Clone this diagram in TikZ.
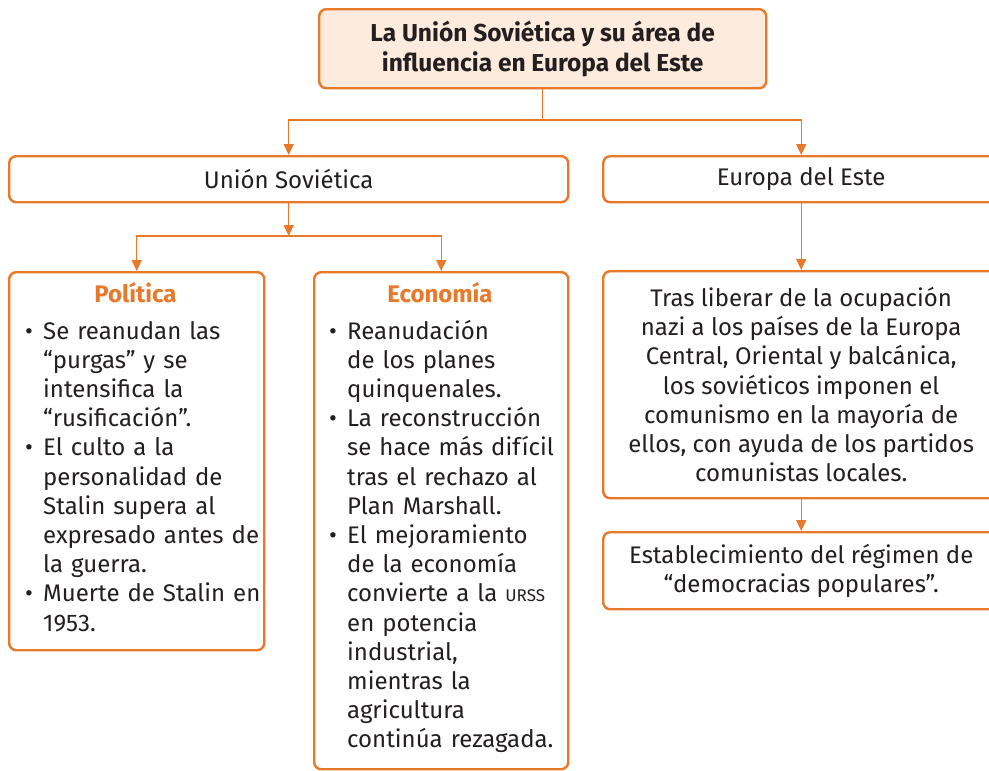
\documentclass[tikz,border=0pt]{standalone}
\usepackage{fontspec}
\setmainfont{Fira Sans}
\usetikzlibrary{arrows.meta}
\definecolor{orng}{HTML}{E8792B}
\definecolor{peach}{HTML}{FDEBDD}
\definecolor{ink}{HTML}{231F20}
\newcommand{\bul}[1]{\hangindent=18pt\hangafter=1\noindent\makebox[18pt][l]{•}#1\par}
\begin{document}
\begin{tikzpicture}[x=1pt,y=-1pt,
 box/.style={draw=orng, line width=2.4pt, rounded corners=7pt, fill=white, inner sep=0pt, text=ink, anchor=north west},
 conn/.style={draw=orng, line width=1.3pt},
 tip/.style={-{Triangle[length=11pt,width=10pt]}},
 body/.style={font=\fontsize{24}{29.2}\selectfont, text=ink},
 head/.style={font=\bfseries\fontsize{24}{29.2}\selectfont, text=orng},
 list/.style={body, text width=300pt, anchor=base west, inner sep=0pt},
]
\clip (0,0) rectangle (989,771);
\fill[white] (0,0) rectangle (989,771);

\node[box, fill=peach, minimum width=447pt, minimum height=79pt, font=\bfseries\fontsize{24.5}{30}\selectfont, align=center] (title) at (318,8) {La Unión Soviética y su área de\\influencia en Europa del Este};

\node[box, body, minimum width=559pt, minimum height=46pt] (us) at (8,155) {Unión Soviética};
\node[box, body, minimum width=396pt, minimum height=46pt] (eur) at (602,155) {Europa del Este};

\node[box, minimum width=255pt, minimum height=378pt] (pol) at (8,271) {};
\node[box, minimum width=254pt, minimum height=497pt] (eco) at (313,271) {};

\node[box, body, minimum width=396pt, minimum height=227pt, align=center] (tras) at (602,270) {Tras liberar de la ocupación\\nazi a los países de la Europa\\Central, Oriental y balcánica,\\los soviéticos imponen el\\comunismo en la mayoría de\\ellos, con ayuda de los partidos\\comunistas locales.};
\node[box, body, minimum width=396pt, minimum height=77pt, align=center] (est) at (602,531) {Establecimiento del régimen de\\“democracias populares”.};

\node[head] (polh) at (135.5,293) {Política};
\node[head] (ecoh) at (440,293) {Economía};

\node[list] (polt) at (25,339) {%
\bul{Se reanudan las\newline “purgas” y se\newline intensifica la\newline “rusificación”.}%
\bul{El culto a la\newline personalidad de\newline Stalin supera al\newline expresado antes de\newline la guerra.}%
\bul{Muerte de Stalin en\newline 1953.}};

\node[list] (ecot) at (329,339) {%
\bul{Reanudación\newline de los planes\newline quinquenales.}%
\bul{La reconstrucción\newline se hace más difícil\newline tras el rechazo al\newline Plan Marshall.}%
\bul{El mejoramiento\newline de la economía\newline convierte a la {\fontsize{17}{29.2}\selectfont URSS}\newline en potencia\newline industrial,\newline mientras la\newline agricultura\newline continúa rezagada.}};

\coordinate (top) at (title.south |- 0,120);
\coordinate (bar) at (us.south |- 0,236);
\draw[conn] (title.south) -- (top);
\draw[conn, tip] (top) -| (us.north);
\draw[conn, tip] (top) -| (eur.north);
\draw[conn, tip] (us.south) -- (bar);
\draw[conn, tip] (bar) -| (pol.north);
\draw[conn, tip] (bar) -| (eco.north);
\draw[conn, tip] (eur.south) -- (tras.north);
\draw[conn, tip] (tras.south) -- (est.north);
\end{tikzpicture}
\end{document}
